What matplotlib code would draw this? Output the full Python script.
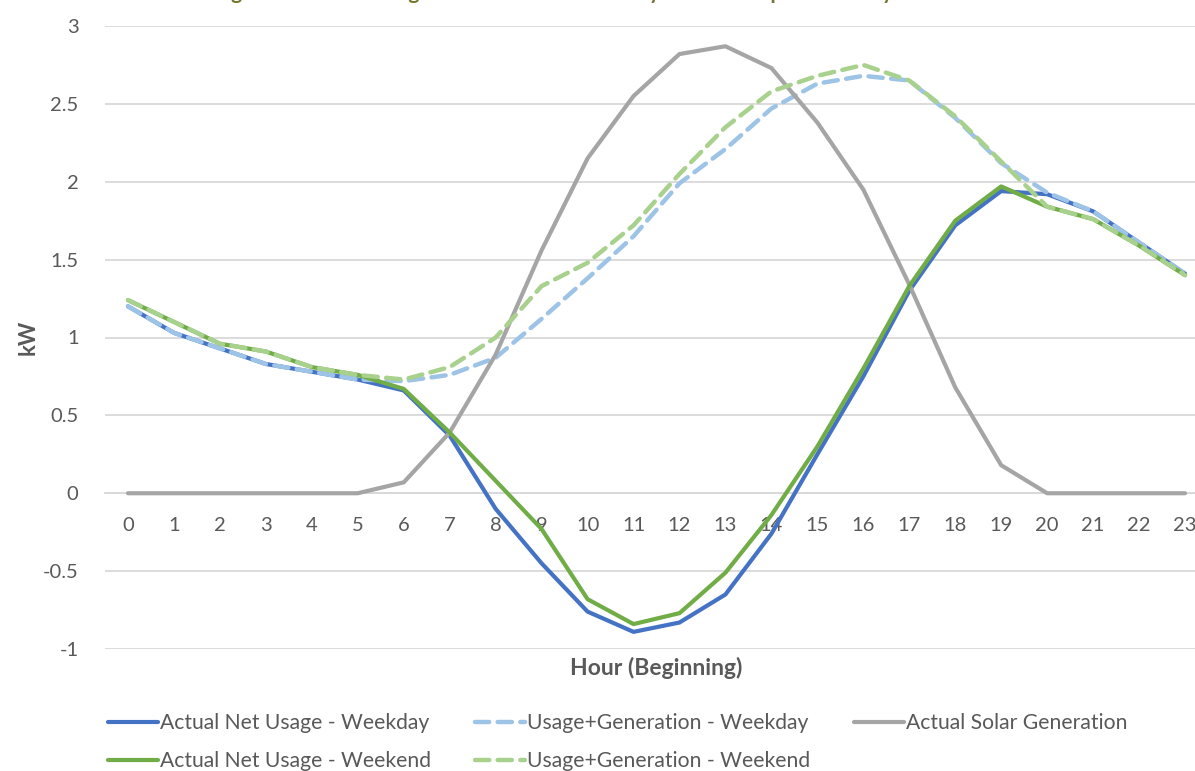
import matplotlib
matplotlib.use("Agg")
import matplotlib.pyplot as plt
import numpy as np

# hourly averages, kW
hours = list(range(24))
net_weekday = [1.2, 1.03, 0.93, 0.83, 0.78, 0.73, 0.66, 0.37, -0.1, -0.45, -0.76, -0.89,
               -0.83, -0.65, -0.26, 0.25, 0.75, 1.3, 1.72, 1.94, 1.92, 1.81, 1.61, 1.41]
usage_gen_weekday = [1.2, 1.03, 0.93, 0.83, 0.78, 0.73, 0.72, 0.76, 0.87, 1.12, 1.38, 1.65,
                     1.99, 2.21, 2.47, 2.63, 2.68, 2.65, 2.41, 2.12, 1.93, 1.81, 1.61, 1.41]
solar_gen = [0, 0, 0, 0, 0, 0, 0.07, 0.39, 0.89, 1.56, 2.15, 2.55,
             2.82, 2.87, 2.73, 2.38, 1.95, 1.34, 0.68, 0.18, 0, 0, 0, 0]
net_weekend = [1.24, 1.1, 0.96, 0.91, 0.81, 0.76, 0.67, 0.39, 0.08, -0.23, -0.68, -0.84,
               -0.77, -0.51, -0.14, 0.3, 0.8, 1.33, 1.75, 1.97, 1.84, 1.76, 1.59, 1.4]
usage_gen_weekend = [1.24, 1.1, 0.96, 0.91, 0.81, 0.76, 0.73, 0.81, 1.0, 1.33, 1.48, 1.72,
                     2.05, 2.35, 2.58, 2.68, 2.75, 2.65, 2.42, 2.13, 1.84, 1.76, 1.59, 1.4]
y_ticks = [-1, -0.5, 0, 0.5, 1, 1.5, 2, 2.5, 3]
y_tick_labels = ["-1", "-0.5", "0", "0.5", "1", "1.5", "2", "2.5", "3"]

plt.rcParams['font.family'] = ['Lato', 'DejaVu Sans']
txt_color = "#595959"
grid_color = "#D9D9D9"

fig = plt.figure(figsize=(11.95, 7.71), dpi=100)
ax = fig.add_axes([105 / 1195, 1 - 649 / 771, 1103 / 1195, 623 / 771])

dash = (3.2, 1.9)
ax.plot(hours, net_weekday, color="#4472C4", lw=3.0, solid_capstyle="round",
        label="Actual Net Usage - Weekday")
ax.plot(hours, usage_gen_weekday, color="#9DC3E6", lw=3.2, dashes=dash,
        dash_capstyle="round", label="Usage+Generation - Weekday")
ax.plot(hours, solar_gen, color="#A5A5A5", lw=3.0, solid_capstyle="round",
        label="Actual Solar Generation")
ax.plot(hours, net_weekend, color="#70AD47", lw=3.0, solid_capstyle="round",
        label="Actual Net Usage - Weekend")
ax.plot(hours, usage_gen_weekend, color="#A9D18E", lw=3.2, dashes=dash,
        dash_capstyle="round", label="Usage+Generation - Weekend")

ax.set_xlim(-0.5, 23.5)
ax.set_ylim(-1, 3)
ax.set_yticks(y_ticks)
ax.set_yticklabels(y_tick_labels)
ax.set_xticks(hours)
ax.set_xticklabels([str(h) for h in hours])
ax.grid(axis="y", color=grid_color, lw=1.3)
ax.set_axisbelow(True)

for s in ["top", "right", "left"]:
    ax.spines[s].set_visible(False)
ax.spines["bottom"].set_position(("data", 0))
ax.spines["bottom"].set_color(grid_color)
ax.spines["bottom"].set_linewidth(1.3)
ax.spines["bottom"].set_zorder(0.5)
ax.tick_params(axis="x", length=0, pad=17, labelsize=14.5, labelcolor=txt_color)
ax.tick_params(axis="y", length=0, pad=19, labelsize=14.5, labelcolor=txt_color)

fig.text(28 / 1195, 1 - 337 / 771, "kW", rotation=90, ha="center", va="center",
         fontsize=16, fontweight="bold", color=txt_color)
fig.text(656 / 1195, 1 - 668 / 771, "Hour (Beginning)", ha="center", va="center",
         fontsize=16.5, fontweight="bold", color=txt_color)

# title is cropped off in the original, only the descenders show
fig.text(585 / 1195, 1 + 1.0 / 771,
         "Average Net Electric Usage and Solar Generation by Hour - Sample Weekday/Weekend",
         ha="center", va="baseline", fontsize=15, fontweight="bold", color="#767630")

h, l = ax.get_legend_handles_labels()
order = [0, 3, 1, 4, 2]
fig.legend([h[i] for i in order], [l[i] for i in order], ncol=3,
           loc="upper left", bbox_to_anchor=(108 / 1195, 1 - 713 / 771),
           frameon=False, fontsize=15.2, labelcolor=txt_color,
           handlelength=2.35, handletextpad=0.1, columnspacing=2.1,
           labelspacing=0.86, borderaxespad=0, borderpad=0)

fig.savefig("out.png", dpi=100)
